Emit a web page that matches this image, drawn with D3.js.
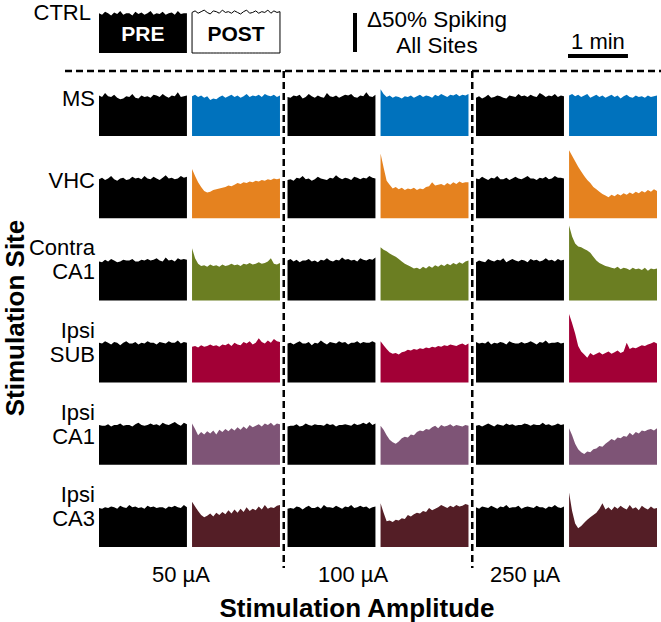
<!DOCTYPE html>
<html>
<head>
<meta charset="utf-8">
<script src="https://cdn.jsdelivr.net/npm/d3@7.9.0/dist/d3.min.js"></script>
<style>
  body { margin: 0; background: #fff; }
  svg { display: block; font-family: "Liberation Sans", Arial, sans-serif; }
</style>
</head>
<body>
<svg id="chart" width="661" height="622"></svg>
<script>
// rows / columns
const sites = ["MS", "VHC", "Contra CA1", "Ipsi SUB", "Ipsi CA1", "Ipsi CA3"];
const amps = ["50 µA", "100 µA", "250 µA"];
const phases = ["PRE", "POST"];
const siteColors = ["#0072bd", "#e5821f", "#6b7e22", "#a20036", "#7e5476", "#541e26"];
const duration = 88; // seconds shown per trace

// spiking, % of pre-stim level (30 bins per trace)
const ctrlPre = [101,99,103,101,98,102,100,104,99,101,101,98,103,100,102,99,101,104,99,101,100,103,99,101,102,99,104,100,101,101];
const ctrlPost = [102,104,101,103,105,102,100,104,103,101,105,102,103,101,104,102,100,103,105,101,102,104,101,103,102,105,101,104,102,103];

// one trace per amplitude: 50, 100, 250 µA
const msPre = [
  [102,100,105,101,100,103,99,97,98,101,100,104,99,98,102,100,101,99,103,102,100,104,101,99,102,101,106,100,101,102],
  [100,99,102,101,103,98,100,104,101,99,102,100,99,105,101,100,102,99,101,103,102,104,100,99,102,101,106,101,100,103],
  [99,101,98,100,103,99,100,102,101,99,98,102,101,100,104,101,102,100,103,101,100,105,103,100,102,101,104,100,102,101]
];
const msPost = [
  [101,103,100,102,99,101,96,98,97,100,102,99,101,103,100,102,99,101,104,100,102,101,103,100,104,102,101,103,100,102],
  [110,104,100,102,99,101,100,98,101,100,102,99,101,103,100,102,101,99,103,101,104,102,100,103,102,104,101,103,102,104],
  [102,104,101,103,100,102,104,99,101,103,100,102,99,101,103,100,102,98,101,103,100,99,102,100,101,99,102,100,101,102]
];
const vhcPre = [
  [100,102,99,101,104,100,98,101,102,99,100,103,101,102,100,104,101,100,103,101,99,102,105,101,102,100,101,104,102,103],
  [99,100,98,102,101,104,100,101,98,100,103,101,100,99,102,101,105,102,100,102,101,99,103,102,100,102,101,104,102,101],
  [101,100,103,101,99,102,101,104,100,100,102,99,101,103,101,100,102,104,101,101,99,102,101,103,100,101,104,102,102,101]
];
const vhcPost = [
  [113,104,96,90,85,83,84,86,87,88,89,90,92,91,93,95,94,96,95,97,96,98,97,99,98,100,99,101,100,101],
  [133,115,98,93,88,90,87,89,86,88,87,89,86,88,87,90,91,96,92,93,94,92,95,93,96,94,97,95,96,96],
  [137,130,123,116,110,104,99,95,90,87,84,81,79,77,80,78,81,79,82,80,83,81,84,82,85,83,86,84,87,85]
];
const ca1cPre = [
  [100,99,102,100,103,101,99,100,102,101,101,103,100,100,102,101,103,101,102,104,101,100,105,101,102,100,104,102,103,102],
  [101,103,100,102,99,101,101,103,100,101,99,102,101,104,101,100,102,101,105,102,103,101,102,100,104,102,101,103,102,105],
  [99,101,100,99,103,101,100,102,101,104,99,101,103,101,100,102,101,99,103,101,102,100,101,104,101,102,100,103,101,102]
];
const ca1cPost = [
  [117,104,97,94,95,93,96,94,95,93,96,94,95,97,95,96,94,97,96,98,96,97,99,97,98,100,104,97,96,98],
  [118,115,113,110,108,106,103,100,97,95,93,91,92,90,93,91,94,92,95,93,96,94,97,95,98,96,99,97,100,101],
  [146,132,123,119,118,116,114,111,106,101,98,96,94,93,92,91,93,90,92,91,89,92,90,91,89,92,88,91,90,91]
];
const subPre = [
  [101,100,103,101,99,102,101,98,101,103,100,100,102,99,101,100,103,101,101,99,102,101,100,103,101,101,104,100,102,101],
  [100,101,99,101,103,100,100,102,98,101,100,104,101,99,102,101,100,103,101,102,99,101,101,103,100,102,101,101,103,101],
  [102,100,101,100,103,99,101,100,102,101,99,103,101,100,100,102,100,101,103,101,99,102,101,104,100,101,101,102,100,101]
];
const subPost = [
  [96,97,95,98,96,97,99,97,98,96,99,98,100,97,101,99,98,102,100,103,99,101,107,102,100,104,101,106,103,102],
  [103,98,93,89,87,88,86,89,90,92,91,93,92,94,93,95,94,96,95,97,96,98,97,99,98,97,99,100,98,100],
  [138,126,113,97,90,86,82,88,85,87,89,86,88,90,87,89,91,88,90,101,93,95,94,96,98,97,99,100,102,100]
];
const ca1iPre = [
  [101,100,100,102,99,101,101,103,100,101,101,99,102,104,101,100,101,103,101,102,100,104,102,101,103,105,102,100,104,102],
  [99,100,100,102,99,100,103,101,100,102,101,101,100,103,101,102,99,101,101,102,101,100,103,101,102,104,102,105,101,103],
  [100,101,99,101,103,101,99,102,101,100,103,101,102,100,101,101,103,102,100,102,101,101,104,101,102,100,101,103,101,102]
];
const ca1iPost = [
  [103,96,88,92,89,93,90,94,89,95,92,96,93,97,94,98,95,99,96,101,98,100,102,99,103,101,104,100,103,102],
  [100,95,88,82,79,77,80,84,86,85,89,88,92,94,93,96,95,98,100,97,101,99,100,102,99,101,100,99,101,100],
  [97,88,77,70,66,64,67,66,70,71,74,73,77,80,83,81,85,84,87,86,91,88,92,90,94,93,95,96,94,97]
];
const ca3Pre = [
  [100,99,101,100,102,101,99,103,101,100,104,101,102,100,101,99,103,101,102,100,101,101,99,102,101,103,101,100,104,101],
  [99,100,99,102,101,98,101,103,100,100,102,99,104,101,101,100,103,101,99,102,101,104,100,101,103,101,102,99,101,102],
  [101,99,102,101,100,103,101,99,102,101,104,100,101,101,103,99,101,102,101,100,103,101,101,99,102,101,104,101,100,102]
];
const ca3Post = [
  [108,102,96,91,88,90,93,89,94,91,95,92,97,93,98,94,99,95,101,96,99,97,102,98,104,99,101,100,103,104],
  [106,94,83,84,82,85,84,87,86,91,89,92,94,93,96,95,100,97,99,101,104,102,100,103,101,104,102,103,105,104],
  [120,96,80,74,77,81,85,88,91,94,99,106,98,101,97,102,99,103,100,98,104,99,101,97,103,100,98,102,99,100]
];

const traces = [
  [msPre, msPost], [vhcPre, vhcPost], [ca1cPre, ca1cPost],
  [subPre, subPost], [ca1iPre, ca1iPost], [ca3Pre, ca3Post]
];

const svg = d3.select("#chart");

// scales
const groupX = d3.scaleBand().domain(amps).range([99, 657]).paddingInner(0.04);
const phaseX = d3.scaleBand().domain(phases).range([0, groupX.bandwidth()]).paddingInner(0.055);
const rowY = d3.scalePoint().domain(sites).range([136, 547]);
const tX = d3.scaleLinear().domain([0, duration]).range([0, phaseX.bandwidth()]);
const vY = d3.scaleLinear().domain([50, 100]).range([0, -39]); // relative to row baseline
const tickX = d3.scalePoint().domain(amps).range([181, 525]);

function areaPath(values) {
  const step = duration / (values.length - 1);
  return d3.area()
    .x((d, i) => tX(i * step))
    .y0(0)
    .y1(d => vY(d))(values);
}

// **dashed separators**
const gap = groupX.step() - groupX.bandwidth();
svg.append("line")
  .attr("x1", 65).attr("x2", 661).attr("y1", 71).attr("y2", 71)
  .attr("stroke", "#000").attr("stroke-width", 2.5).attr("stroke-dasharray", "7,4");
amps.slice(0, -1).forEach(a => {
  const x = groupX(a) + groupX.bandwidth() + gap / 2;
  svg.append("line")
    .attr("x1", x).attr("x2", x).attr("y1", 71).attr("y2", 568)
    .attr("stroke", "#000").attr("stroke-width", 2.5).attr("stroke-dasharray", "7,4");
});

// **CTRL example**
const ctrlG = svg.append("g").attr("transform", `translate(${groupX(amps[0])},53)`);
ctrlG.append("path")
  .attr("transform", `translate(${phaseX("PRE")},0)`)
  .attr("d", areaPath(ctrlPre)).attr("fill", "#000");
ctrlG.append("path")
  .attr("transform", `translate(${phaseX("POST")},0)`)
  .attr("d", areaPath(ctrlPost) + "Z").attr("fill", "#fff").attr("stroke", "#000").attr("stroke-width", 1);
phases.forEach(p => {
  ctrlG.append("text")
    .attr("x", phaseX(p) + phaseX.bandwidth() / 2).attr("y", -12)
    .attr("text-anchor", "middle").attr("font-size", 21).attr("font-weight", "bold")
    .attr("fill", p === "PRE" ? "#fff" : "#000")
    .text(p);
});
svg.append("text").attr("x", 91).attr("y", 20).attr("text-anchor", "end")
  .attr("font-size", 22).text("CTRL");

// **scale bars**
svg.append("rect")
  .attr("x", 353).attr("y", 52 + vY(100)).attr("width", 4).attr("height", vY(50) - vY(100))
  .attr("fill", "#000");
svg.append("text").attr("x", 437).attr("y", 27).attr("text-anchor", "middle")
  .attr("font-size", 22.5).text("Δ50% Spiking");
svg.append("text").attr("x", 437).attr("y", 53).attr("text-anchor", "middle")
  .attr("font-size", 22.5).text("All Sites");
svg.append("rect")
  .attr("x", 568).attr("y", 54).attr("width", tX(60) - tX(0)).attr("height", 4)
  .attr("fill", "#000");
svg.append("text").attr("x", 568 + (tX(60) - tX(0)) / 2).attr("y", 49).attr("text-anchor", "middle")
  .attr("font-size", 22).text("1 min");

// **trace grid**
sites.forEach((site, r) => {
  const base = rowY(site);
  amps.forEach((amp, c) => {
    phases.forEach((p, k) => {
      svg.append("path")
        .attr("transform", `translate(${groupX(amp) + phaseX(p)},${base})`)
        .attr("d", areaPath(traces[r][k][c]))
        .attr("fill", k === 0 ? "#000" : siteColors[r]);
    });
  });

  // row label (one or two lines)
  const words = site.split(" ");
  const offs = words.length === 1 ? [-30] : [-45, -21];
  words.forEach((w, i) => {
    svg.append("text").attr("x", 95).attr("y", base + offs[i])
      .attr("text-anchor", "end").attr("font-size", 22).text(w);
  });
});

// **axis labels**
amps.forEach(a => {
  svg.append("text").attr("x", tickX(a)).attr("y", 582).attr("text-anchor", "middle")
    .attr("font-size", 22).text(a);
});
svg.append("text").attr("x", 357).attr("y", 617).attr("text-anchor", "middle")
  .attr("font-size", 26).attr("font-weight", "bold").text("Stimulation Amplitude");
svg.append("text").attr("transform", "translate(24,318) rotate(-90)").attr("text-anchor", "middle")
  .attr("font-size", 26).attr("font-weight", "bold").text("Stimulation Site");
</script>
</body>
</html>
